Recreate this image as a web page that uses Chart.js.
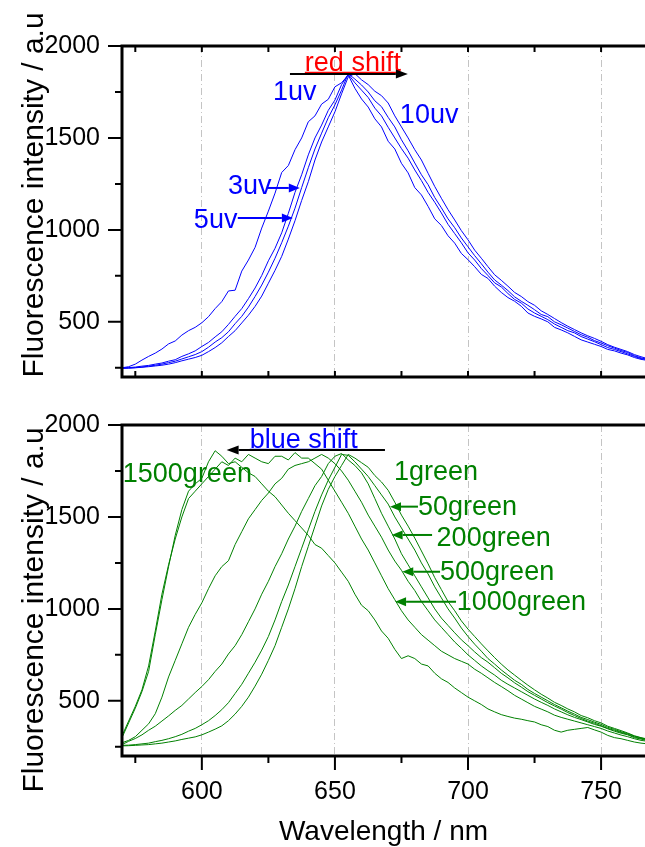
<!DOCTYPE html>
<html>
<head>
<meta charset="utf-8">
<title>Fluorescence spectra</title>
<script src="https://cdn.jsdelivr.net/npm/chart.js@4.4.1/dist/chart.umd.min.js"></script>
<style>
  html, body { margin: 0; padding: 0; background: #fff; }
  #wrap { position: relative; width: 645px; height: 847px; overflow: hidden; }
  canvas { position: absolute; left: 0; }
  #top { top: 0; }
  #bottom { top: 400px; }
</style>
</head>
<body>
<div id="wrap">
  <canvas id="top" width="645" height="400"></canvas>
  <canvas id="bottom" width="645" height="447"></canvas>
</div>
<script>
"use strict";

// wavelength grid (nm), 2.5 nm steps
const wavelength = [
    570, 572.5, 575, 577.5, 580, 582.5, 585, 587.5, 590, 592.5,
    595, 597.5, 600, 602.5, 605, 607.5, 610, 612.5, 615, 617.5,
    620, 622.5, 625, 627.5, 630, 632.5, 635, 637.5, 640, 642.5,
    645, 647.5, 650, 652.5, 655, 657.5, 660, 662.5, 665, 667.5,
    670, 672.5, 675, 677.5, 680, 682.5, 685, 687.5, 690, 692.5,
    695, 697.5, 700, 702.5, 705, 707.5, 710, 712.5, 715, 717.5,
    720, 722.5, 725, 727.5, 730, 732.5, 735, 737.5, 740, 742.5,
    745, 747.5, 750, 752.5, 755, 757.5, 760, 762.5, 765, 767.5,
    770];

// top panel: uv exposure
const uv1 = [
    250, 256, 270, 292, 312, 330, 352, 380, 396, 428,
    452, 470, 495, 528, 572, 610, 668, 672, 776, 836,
    905, 1010, 1102, 1200, 1312, 1350, 1436, 1500, 1588, 1620,
    1684, 1710, 1778, 1800, 1842, 1770, 1712, 1668, 1604, 1560,
    1482, 1440, 1362, 1310, 1230, 1190, 1128, 1060, 1024, 968,
    928, 872, 838, 800, 758, 736, 694, 660, 632, 612,
    585, 548, 530, 516, 500, 470, 456, 440, 421, 402,
    390, 378, 366, 350, 342, 330, 320, 306, 296, 290,
    284];
const uv3 = [
    250, 251, 254, 259, 263, 270, 276, 286, 294, 312,
    326, 342, 366, 388, 418, 446, 486, 530, 572, 626,
    684, 752, 832, 900, 984, 1090, 1204, 1300, 1408, 1500,
    1570, 1650, 1706, 1790, 1846, 1800, 1760, 1720, 1662, 1620,
    1558, 1500, 1442, 1390, 1326, 1268, 1204, 1150, 1092, 1030,
    980, 930, 875, 836, 790, 752, 712, 690, 654, 622,
    602, 570, 548, 530, 512, 488, 470, 452, 440, 420,
    406, 392, 376, 360, 350, 338, 326, 312, 300, 294,
    286];
const uv5 = [
    248, 249, 251, 254, 259, 264, 270, 278, 286, 298,
    310, 322, 338, 362, 390, 414, 446, 490, 530, 580,
    638, 700, 770, 846, 930, 1020, 1118, 1230, 1338, 1440,
    1526, 1610, 1680, 1760, 1850, 1820, 1788, 1750, 1702, 1670,
    1612, 1560, 1490, 1430, 1364, 1300, 1246, 1176, 1120, 1060,
    1012, 956, 908, 860, 816, 770, 728, 700, 670, 636,
    612, 590, 566, 540, 528, 500, 484, 466, 448, 430,
    416, 398, 385, 370, 357, 344, 333, 316, 304, 296,
    288];
const uv10 = [
    247, 248, 250, 253, 256, 260, 264, 270, 278, 288,
    297, 306, 318, 338, 360, 386, 420, 452, 494, 536,
    584, 640, 710, 780, 856, 950, 1050, 1160, 1262, 1380,
    1478, 1560, 1642, 1740, 1832, 1850, 1816, 1790, 1754, 1730,
    1690, 1620, 1560, 1500, 1436, 1380, 1308, 1236, 1172, 1110,
    1054, 996, 946, 890, 846, 800, 756, 726, 694, 660,
    638, 610, 590, 560, 540, 518, 496, 476, 458, 440,
    424, 410, 394, 376, 362, 350, 338, 322, 310, 300,
    292];

// bottom panel: green exposure
const green1 = [
    255, 256, 258, 260, 262, 266, 270, 276, 282, 290,
    297, 304, 315, 330, 346, 364, 392, 428, 470, 520,
    580, 645, 720, 800, 900, 1000, 1110, 1230, 1340, 1450,
    1560, 1650, 1720, 1780, 1840, 1820, 1795, 1770, 1725, 1690,
    1645, 1580, 1510, 1450, 1385, 1315, 1245, 1170, 1105, 1040,
    990, 935, 890, 850, 810, 772, 735, 700, 668, 640,
    612, 585, 560, 536, 515, 492, 475, 456, 440, 420,
    408, 392, 380, 362, 350, 338, 325, 310, 300, 292,
    285];
const green50 = [
    258, 259, 262, 266, 270, 278, 285, 294, 305, 318,
    335, 350, 370, 392, 420, 452, 490, 540, 590, 650,
    710, 776, 850, 940, 1040, 1130, 1230, 1330, 1430, 1530,
    1620, 1700, 1770, 1840, 1835, 1800, 1760, 1720, 1670, 1620,
    1570, 1500, 1440, 1380, 1320, 1250, 1190, 1120, 1060, 1000,
    950, 896, 850, 808, 770, 730, 700, 668, 640, 612,
    590, 562, 540, 520, 500, 480, 462, 444, 428, 410,
    398, 384, 372, 356, 345, 332, 322, 308, 298, 290,
    283];
const green200 = [
    262, 280, 295, 315, 340, 362, 390, 418, 448, 475,
    510, 545, 578, 615, 660, 700, 755, 800, 860, 930,
    1000, 1080, 1150, 1230, 1300, 1380, 1450, 1530, 1600, 1670,
    1720, 1790, 1830, 1845, 1810, 1780, 1740, 1680, 1600, 1520,
    1450, 1380, 1300, 1240, 1180, 1120, 1060, 1000, 950, 910,
    870, 832, 800, 766, 735, 710, 680, 650, 625, 598,
    575, 550, 530, 510, 490, 472, 455, 436, 420, 404,
    390, 378, 365, 350, 340, 328, 318, 304, 295, 288,
    280];
const green500 = [
    272, 285, 305, 340, 375, 430, 520, 630, 720, 810,
    900, 970, 1033, 1110, 1180, 1230, 1262, 1350, 1420, 1490,
    1540, 1590, 1630, 1680, 1710, 1760, 1780, 1790, 1800, 1820,
    1840, 1820, 1790, 1750, 1700, 1640, 1580, 1510, 1450, 1390,
    1320, 1260, 1210, 1150, 1100, 1040, 990, 940, 900, 860,
    820, 786, 750, 720, 690, 664, 640, 612, 590, 570,
    550, 530, 510, 492, 475, 456, 440, 424, 410, 398,
    385, 372, 362, 348, 335, 324, 315, 300, 292, 284,
    278];
const green1000 = [
    310, 390, 470, 560, 690, 880, 1080, 1240, 1380, 1500,
    1600, 1640, 1680, 1720, 1760, 1800, 1780, 1820, 1800, 1840,
    1820, 1800, 1790, 1830, 1830, 1810, 1850, 1820, 1820, 1790,
    1760, 1700, 1640, 1580, 1520, 1450, 1380, 1320, 1250, 1180,
    1110, 1050, 990, 940, 900, 860, 830, 800, 770, 750,
    730, 715, 700, 672, 650, 625, 600, 578, 555, 530,
    510, 490, 470, 455, 440, 422, 410, 400, 390, 380,
    370, 360, 350, 336, 325, 314, 305, 294, 285, 280,
    275];
const green1500 = [
    300, 380, 460, 550, 660, 860, 1050, 1230, 1400, 1540,
    1640, 1680, 1710, 1800, 1860, 1830, 1790, 1800, 1770, 1740,
    1720, 1680, 1640, 1610, 1565, 1520, 1480, 1440, 1400, 1350,
    1330, 1290, 1250, 1200, 1150, 1080, 1020, 990, 940, 880,
    840, 780, 730, 745, 730, 700, 690, 650, 620, 600,
    570, 545, 520, 500, 480, 456, 440, 425, 415, 406,
    400, 392, 385, 370, 360, 340, 330, 340, 345, 350,
    355, 342, 330, 312, 300, 294, 285, 276, 270, 266,
    262];

// axis ticks
const xTicks = [600, 650, 700, 750];
const xMinor = [575, 625, 675, 725];
const yTicks = [500, 1000, 1500, 2000];
const yMinor = [250, 750, 1250, 1750];

const BLUE = '#0000ff';
const GREEN = '#008000';
const FONT = "'Liberation Sans', Arial, Helvetica, sans-serif";
Chart.defaults.font.family = FONT;
Chart.defaults.color = '#000';

function series(values, color) {
    return {
        data: values.map((v, i) => ({ x: wavelength[i], y: v })),
        borderColor: color,
        borderWidth: 1,
        pointRadius: 0,
        tension: 0,
        fill: false
    };
}

function drawArrow(ctx, x1, y1, x2, y2, color, head) {
    const ang = Math.atan2(y2 - y1, x2 - x1);
    const len = head || 11;
    ctx.strokeStyle = color;
    ctx.fillStyle = color;
    ctx.lineWidth = 2;
    ctx.beginPath();
    ctx.moveTo(x1, y1);
    ctx.lineTo(x2 - Math.cos(ang) * len, y2 - Math.sin(ang) * len);
    ctx.stroke();
    ctx.beginPath();
    ctx.moveTo(x2, y2);
    ctx.lineTo(x2 - Math.cos(ang) * len - Math.sin(ang) * 4.5, y2 - Math.sin(ang) * len + Math.cos(ang) * 4.5);
    ctx.lineTo(x2 - Math.cos(ang) * len + Math.sin(ang) * 4.5, y2 - Math.sin(ang) * len - Math.cos(ang) * 4.5);
    ctx.closePath();
    ctx.fill();
}

// frame, ticks, axis title and text labels
const decor = {
    id: 'decor',
    afterDatasetsDraw(chart, args, opts) {
        const { ctx, chartArea: a, scales: { x, y } } = chart;
        ctx.save();

        // tick marks
        ctx.strokeStyle = '#000';
        ctx.lineWidth = 2;
        ctx.beginPath();
        yTicks.forEach(v => { const p = y.getPixelForValue(v); ctx.moveTo(a.left - 14, p); ctx.lineTo(a.left, p); });
        yMinor.forEach(v => { const p = y.getPixelForValue(v); ctx.moveTo(a.left - 7, p); ctx.lineTo(a.left, p); });
        if (opts.xOutward) {
            xTicks.forEach(v => { const p = x.getPixelForValue(v); ctx.moveTo(p, a.bottom); ctx.lineTo(p, a.bottom + 14); });
            xMinor.forEach(v => { const p = x.getPixelForValue(v); ctx.moveTo(p, a.bottom); ctx.lineTo(p, a.bottom + 7); });
        } else {
            xTicks.concat(xMinor).forEach(v => {
                const p = x.getPixelForValue(v);
                ctx.moveTo(p, a.bottom); ctx.lineTo(p, a.bottom - 6);
                ctx.moveTo(p, a.top); ctx.lineTo(p, a.top + 6);
            });
        }
        ctx.stroke();

        // frame
        ctx.lineWidth = 3;
        ctx.beginPath();
        ctx.moveTo(a.left, a.top); ctx.lineTo(a.right, a.top);
        ctx.moveTo(a.left, a.top - 1.5); ctx.lineTo(a.left, a.bottom + 1.5);
        ctx.moveTo(a.left, a.bottom); ctx.lineTo(a.right, a.bottom);
        ctx.stroke();

        // y axis title
        ctx.save();
        ctx.translate(43, opts.titleY);
        ctx.rotate(-Math.PI / 2);
        ctx.font = '30px ' + FONT;
        ctx.fillStyle = '#000';
        ctx.textAlign = 'center';
        ctx.textBaseline = 'alphabetic';
        ctx.fillText('Fluorescence intensity / a.u', 0, 0);
        ctx.restore();

        // text labels
        ctx.font = '27px ' + FONT;
        ctx.textAlign = 'left';
        ctx.textBaseline = 'alphabetic';
        opts.labels.forEach(l => {
            const px = x.getPixelForValue(l.at[0]);
            const py = y.getPixelForValue(l.at[1]);
            ctx.fillStyle = l.color;
            ctx.fillText(l.text, px, py);
            if (l.underline) {
                const w = ctx.measureText(l.text).width;
                ctx.strokeStyle = l.color;
                ctx.lineWidth = 1.5;
                ctx.beginPath();
                ctx.moveTo(px, py + 1.5);
                ctx.lineTo(px + w, py + 1.5);
                ctx.stroke();
            }
        });

        // arrows
        opts.arrows.forEach(r => {
            drawArrow(ctx, x.getPixelForValue(r.from[0]), y.getPixelForValue(r.from[1]),
                      x.getPixelForValue(r.to[0]), y.getPixelForValue(r.to[1]), r.color, r.head);
        });

        ctx.restore();
    }
};

function makeOptions(isBottom, decorOpts) {
    return {
        responsive: false,
        animation: false,
        devicePixelRatio: 1,
        layout: { padding: { top: isBottom ? 25 : 46, left: 0, right: 0, bottom: 0 } },
        plugins: {
            legend: { display: false },
            tooltip: { enabled: false },
            decor: decorOpts
        },
        scales: {
            x: {
                type: 'linear',
                min: 570,
                max: 766.5,
                afterBuildTicks: scale => { scale.ticks = xTicks.map(v => ({ value: v })); },
                afterFit: scale => { scale.height = isBottom ? 91 : 23; },
                grid: { display: true, color: '#c4c4c4', lineWidth: 1, drawTicks: false },
                border: { display: false, dash: [7, 3, 1, 3] },
                ticks: {
                    display: isBottom,
                    padding: 21,
                    maxRotation: 0,
                    font: { size: 25 },
                    callback: v => String(v)
                },
                title: {
                    display: isBottom,
                    text: 'Wavelength / nm',
                    font: { size: 28, lineHeight: 1 },
                    padding: { top: 0, bottom: 1 }
                }
            },
            y: {
                type: 'linear',
                min: 200,
                max: 2000,
                afterBuildTicks: scale => { scale.ticks = yTicks.map(v => ({ value: v })); },
                afterFit: scale => { scale.width = 122; },
                grid: { display: false, drawTicks: true, tickLength: 19 },
                border: { display: false },
                ticks: {
                    padding: 3,
                    font: { size: 25, lineHeight: 1 },
                    callback: v => String(v)
                }
            }
        }
    };
}

new Chart(document.getElementById('top'), {
    type: 'line',
    data: {
        datasets: [series(uv1, BLUE), series(uv3, BLUE), series(uv5, BLUE), series(uv10, BLUE)]
    },
    options: makeOptions(false, {
        titleY: 195,
        labels: [
            { text: 'red shift', at: [638.7, 1864], color: '#ff0000', underline: true },
            { text: '1uv', at: [626.7, 1706], color: BLUE },
            { text: '10uv', at: [674.4, 1581], color: BLUE },
            { text: '3uv', at: [609.8, 1195], color: BLUE },
            { text: '5uv', at: [597, 1010], color: BLUE }
        ],
        arrows: [
            { from: [633.1, 1848], to: [677.4, 1848], color: '#000', head: 12 },
            { from: [624.8, 1228], to: [636.8, 1228], color: BLUE },
            { from: [613.5, 1065], to: [634.2, 1065], color: BLUE }
        ]
    }),
    plugins: [decor]
});

new Chart(document.getElementById('bottom'), {
    type: 'line',
    data: {
        datasets: [series(green1, GREEN), series(green50, GREEN), series(green200, GREEN),
                   series(green500, GREEN), series(green1000, GREEN), series(green1500, GREEN)]
    },
    options: makeOptions(true, {
        titleY: 210,
        xOutward: true,
        labels: [
            { text: 'blue shift', at: [618, 1875], color: BLUE, underline: true },
            { text: '1500green', at: [570.3, 1690], color: GREEN },
            { text: '1green', at: [672.2, 1701], color: GREEN },
            { text: '50green', at: [681.2, 1511], color: GREEN },
            { text: '200green', at: [688.2, 1344], color: GREEN },
            { text: '500green', at: [689.5, 1157], color: GREEN },
            { text: '1000green', at: [695.8, 994], color: GREEN }
        ],
        arrows: [
            { from: [668.8, 1864], to: [609.3, 1864], color: '#000', head: 12 },
            { from: [681.2, 1556], to: [670.7, 1556], color: GREEN },
            { from: [686.5, 1402], to: [671.3, 1402], color: GREEN },
            { from: [689.5, 1202], to: [675.3, 1202], color: GREEN },
            { from: [695.5, 1039], to: [672.6, 1039], color: GREEN }
        ]
    }),
    plugins: [decor]
});
</script>
</body>
</html>
